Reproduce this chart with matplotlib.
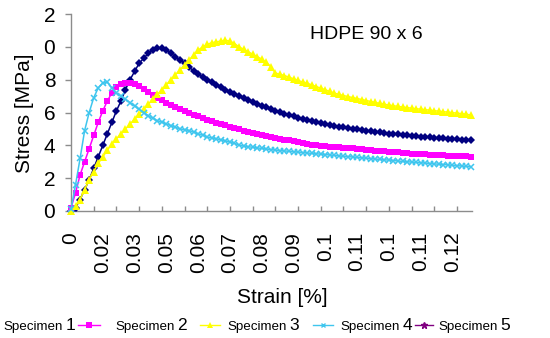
import matplotlib
matplotlib.use("Agg")
import matplotlib.pyplot as plt
from matplotlib.lines import Line2D

plt.rcParams['font.family'] = ['Liberation Sans', 'DejaVu Sans']

# values, one per category point
spec1 = [0.0, 0.2, 0.7, 1.3, 1.9, 2.6, 3.3, 4.0, 4.7, 5.4, 6.1, 6.7, 7.4, 8.0, 8.5, 9.0,
         9.3, 9.6, 9.8, 9.9, 9.95, 9.8, 9.6, 9.4, 9.2, 9.0, 8.75, 8.55, 8.35, 8.15, 8.0,
         7.85, 7.7, 7.55, 7.4, 7.25, 7.12, 7.0, 6.87, 6.75, 6.63, 6.52, 6.42, 6.32, 6.22,
         6.12, 6.02, 5.93, 5.84, 5.76, 5.68, 5.6, 5.53, 5.47, 5.41, 5.35, 5.3, 5.24, 5.19,
         5.14, 5.09, 5.05, 5.01, 4.97, 4.93, 4.89, 4.86, 4.82, 4.79, 4.75, 4.72, 4.69, 4.66,
         4.63, 4.61, 4.58, 4.56, 4.53, 4.51, 4.49, 4.47, 4.45, 4.43, 4.41, 4.39, 4.37, 4.35,
         4.33, 4.32]
spec2 = [0.2, 1.1, 2.2, 3.0, 3.8, 4.6, 5.4, 6.1, 6.7, 7.2, 7.55, 7.75, 7.8, 7.8, 7.75, 7.6,
         7.45, 7.25, 7.05, 6.9, 6.75, 6.6, 6.45, 6.32, 6.2, 6.08, 5.97, 5.86, 5.76, 5.66, 5.56,
         5.47, 5.38, 5.3, 5.22, 5.14, 5.06, 4.98, 4.9, 4.83, 4.77, 4.71, 4.65, 4.59, 4.53,
         4.47, 4.41, 4.35, 4.3, 4.24, 4.18, 4.13, 4.08, 4.04, 4.0, 3.97, 3.94, 3.91, 3.89,
         3.87, 3.85, 3.83, 3.81, 3.78, 3.76, 3.73, 3.71, 3.68, 3.66, 3.63, 3.61, 3.59, 3.57,
         3.55, 3.52, 3.5, 3.48, 3.47, 3.45, 3.44, 3.42, 3.41, 3.39, 3.38, 3.36, 3.35, 3.33,
         3.32, 3.31]
spec3 = [0.0, 0.3, 0.7, 1.3, 1.9, 2.4, 2.9, 3.3, 3.7, 4.1, 4.4, 4.7, 5.0, 5.3, 5.6, 5.9,
         6.2, 6.5, 6.8, 7.1, 7.4, 7.7, 8.0, 8.3, 8.6, 8.9, 9.2, 9.5, 9.8, 10.0, 10.15,
         10.25, 10.3, 10.35, 10.4, 10.35, 10.2, 10.0, 9.85, 9.7, 9.55, 9.4, 9.25, 9.05, 8.8,
         8.4, 8.33, 8.25, 8.15, 8.05, 7.95, 7.85, 7.78, 7.68, 7.58, 7.48, 7.38, 7.28, 7.18,
         7.1, 7.03, 6.97, 6.91, 6.85, 6.79, 6.73, 6.67, 6.61, 6.55, 6.5, 6.45, 6.41, 6.37,
         6.33, 6.3, 6.26, 6.23, 6.2, 6.17, 6.14, 6.11, 6.08, 6.05, 6.02, 5.99, 5.96, 5.93,
         5.89, 5.85]
spec4 = [0.1, 1.6, 3.2, 4.9, 6.0, 6.9, 7.5, 7.8, 7.85, 7.5, 7.2, 7.0, 6.8, 6.6, 6.4, 6.2,
         6.0, 5.8, 5.65, 5.5, 5.4, 5.3, 5.2, 5.1, 5.0, 4.95, 4.9, 4.8, 4.7, 4.62, 4.5,
         4.45, 4.4, 4.33, 4.27, 4.2, 4.12, 4.02, 3.95, 3.92, 3.88, 3.85, 3.81, 3.78, 3.74,
         3.71, 3.68, 3.66, 3.64, 3.61, 3.59, 3.56, 3.54, 3.51, 3.49, 3.46, 3.44, 3.41, 3.39,
         3.36, 3.33, 3.31, 3.29, 3.26, 3.24, 3.22, 3.19, 3.17, 3.14, 3.12, 3.1, 3.07, 3.05,
         3.02, 3.0, 2.98, 2.96, 2.94, 2.92, 2.89, 2.87, 2.85, 2.83, 2.81, 2.78, 2.76, 2.74,
         2.72, 2.7]

strain_labels = ['0', '0.02', '0.03', '0.05', '0.06', '0.07', '0.08', '0.09',
                 '0.1', '0.11', '0.1', '0.11', '0.12']
stress_labels = ['0', '2', '4', '6', '8', '0', '2']
names = ['Specimen', 'Specimen', 'Specimen', 'Specimen', 'Specimen']
numbers = ['1', '2', '3', '4', '5']

colors = ['#000080', '#FF00FF', '#FFFF00', '#3FC6EE', '#800080']
markers = ['D', 's', '^', 'x', '*']
msizes = [4.2, 4.8, 6.0, 4.6, 6.0]

fig = plt.figure(figsize=(5.5, 3.38), dpi=100)
ax = fig.add_axes([71 / 550, 1 - 211 / 338, 401 / 550, 197 / 338])

idx = list(range(len(spec1)))
for k, ys in enumerate([spec1, spec2, spec3, spec4]):
    ew = 1.1 if markers[k] == 'x' else 0
    ax.plot(idx, ys, color=colors[k], lw=1.1, marker=markers[k], ms=msizes[k],
            mew=ew, mec=colors[k], clip_on=False, zorder=3 + k)

ax.set_xlim(0, 88.3)
ax.set_ylim(0, 12)

# axis styling (excel look)
for s in ['top', 'right']:
    ax.spines[s].set_visible(False)
for s in ['left', 'bottom']:
    ax.spines[s].set_color('#8c8c8c')
    ax.spines[s].set_linewidth(1.0)

ax.set_yticks(range(0, 13, 2))
ax.set_yticklabels(stress_labels, fontsize=15)
ax.tick_params(axis='y', direction='out', length=4.3, width=1, color='#8c8c8c', pad=7)

# ticks every 5 points, labels every 7 points
ax.xaxis.set_remove_overlapping_locs(False)
ax.set_xticks(range(0, 89, 5))
ax.set_xticklabels([])
ax.tick_params(axis='x', which='major', direction='in', length=3.6, width=1, color='#8c8c8c')
ax.set_xticks(range(0, 85, 7), minor=True)
ax.set_xticklabels(strain_labels, minor=True, rotation=90, fontsize=15)
ax.tick_params(axis='x', which='minor', length=0, pad=15)

ax.set_xlabel('Strain [%]', fontsize=15, va='center')
ax.xaxis.set_label_coords(0.526, -0.437)
ax.set_ylabel('Stress [MPa]', fontsize=15, va='center')
ax.yaxis.set_label_coords(-0.115, 0.497)

ax.text(0.596, 0.898, 'HDPE 90 x 6', transform=ax.transAxes, fontsize=14,
        ha='left', va='center')

# legend row at the bottom, drawn by hand
text_x = [3, 115, 227, 340, 438]
handle_x = [None, (78, 100), (200, 220), (313, 333), (415, 433)]
y_txt = 1 - 327 / 338
y_hnd = 1 - 325 / 338
for k in range(5):
    t = fig.text(text_x[k] / 550, y_txt, names[k], fontsize=9.6, va='center')
    ax.annotate(numbers[k], xy=(1, 0), xycoords=t, xytext=(2, 0),
                textcoords='offset points', fontsize=12.5, va='bottom')
    if handle_x[k] is not None:
        x0, x1 = handle_x[k]
        fig.add_artist(Line2D([x0 / 550, x1 / 550], [y_hnd, y_hnd],
                              transform=fig.transFigure, color=colors[k], lw=1))
        ew = 1.0 if markers[k] in ('x', '*') else 0
        fig.add_artist(Line2D([(x0 + x1) / 2 / 550], [y_hnd], transform=fig.transFigure,
                              color=colors[k], marker=markers[k], ms=msizes[k] - 1, mew=ew,
                              mec=colors[k], lw=0))

fig.savefig('out.png', dpi=100)
